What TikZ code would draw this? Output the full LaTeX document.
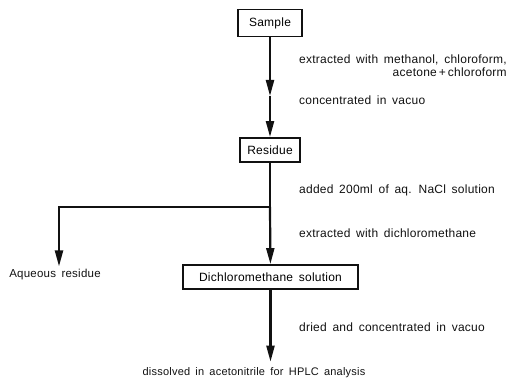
\documentclass[tikz,border=0pt]{standalone}
\usepackage{fontspec}
\setmainfont[WordSpace=1.6,LetterSpace=2]{Liberation Sans}
\usepackage{tikz}
\usetikzlibrary{arrows.meta,positioning}
\definecolor{inkc}{HTML}{111111}
\tikzset{
  ar/.style={-{Triangle[length=16pt,width=8pt]},line width=2.2pt,inkc},
  ln/.style={line width=2.2pt,inkc},
  box/.style={draw=inkc,line width=1.9pt,minimum height=24pt,inner sep=3pt,font=\fontsize{12}{14}\selectfont},
  txt/.style={inner sep=0pt,font=\fontsize{12}{13}\selectfont,text=inkc}
}
\begin{document}
\begin{tikzpicture}[x=1pt,y=-1pt]
\useasboundingbox (0,0) rectangle (517,379);
\node[box,minimum width=64pt,minimum height=27pt] (smp) at (270,23) {Sample};
\node[box,minimum width=60pt] (res) at (270,150) {Residue};
\node[box,minimum width=175pt] (dcm) at (270.5,277) {Dichloromethane solution};
\node[txt,font=\fontsize{11.5}{13}\selectfont] (aq) at (55,275) {Aqueous residue};
\node[txt,font=\fontsize{11}{13}\selectfont] (diss) at (254,373) {dissolved in acetonitrile for HPLC analysis};
\node[txt,anchor=west,align=right] (t1) at (299,66) {extracted with methanol, chloroform,\\acetone\,+\,chloroform};
\node[txt,anchor=west] (t2) at (299,100) {concentrated in vacuo};
\node[txt,anchor=west] (t3) at (299,190) {added 200ml of aq. NaCl solution};
\node[txt,anchor=west] (t4) at (299,233) {extracted with dichloromethane};
\node[txt,anchor=west] (t5) at (299,327) {dried and concentrated in vacuo};
\coordinate (m1) at (270,96);
\coordinate (jn) at (270,207);
\coordinate (lf) at (59,207);
\draw[ar] (smp) -- (m1);
\draw[ar] (m1) -- (res);
\draw[ln] (res) -- (jn);
\draw[ar] (jn) -- (dcm);
\draw[ar,shorten >=3pt] (jn) -- (lf) -- (lf |- aq.north);
\draw[ar,shorten >=6pt] (dcm) -- (dcm.south |- diss.north);
\end{tikzpicture}
\end{document}
